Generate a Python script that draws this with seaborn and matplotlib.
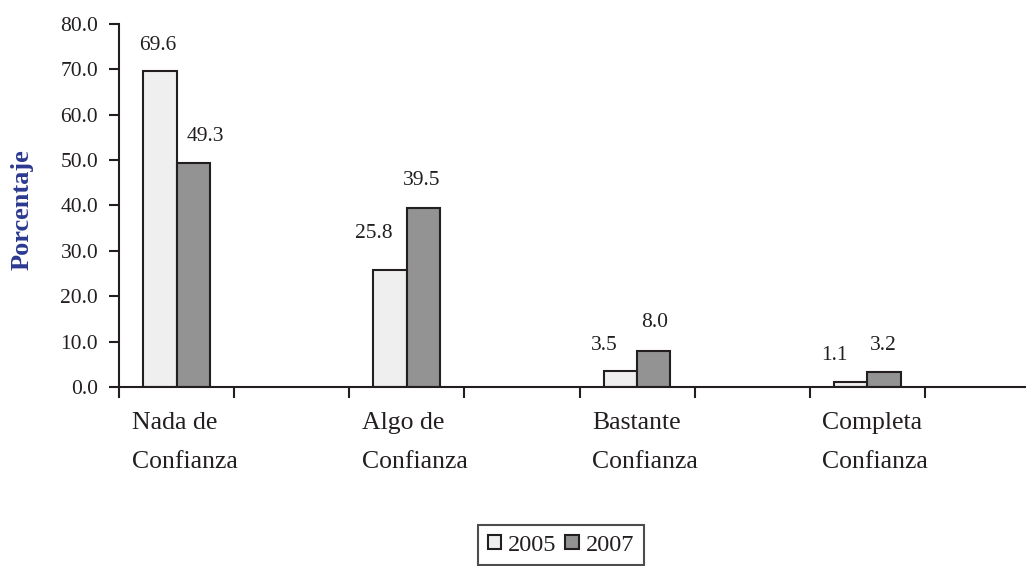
import numpy as np
import pandas as pd
import matplotlib
matplotlib.use("Agg")
import matplotlib.pyplot as plt
from matplotlib.transforms import ScaledTranslation
import seaborn as sns

# Confidence levels and the share of respondents (%) in each survey year
categorias = ["Nada de\nConfianza", "Algo de\nConfianza", "Bastante\nConfianza", "Completa\nConfianza"]
anios = ["2005", "2007"]
v2005 = [69.6, 25.8, 3.5, 1.1]
v2007 = [49.3, 39.5, 8.0, 3.2]
yticks = [0, 10, 20, 30, 40, 50, 60, 70, 80]

sns.set_style("white")
plt.rcParams["font.family"] = ["Liberation Serif", "DejaVu Serif"]
ink = "#231f20"
plt.rcParams["text.color"] = ink
plt.rcParams["axes.labelcolor"] = ink
plt.rcParams["xtick.color"] = ink
plt.rcParams["ytick.color"] = ink

df = pd.DataFrame({
    "nivel": categorias * 2,
    "anio": [anios[0]] * 4 + [anios[1]] * 4,
    "pct": v2005 + v2007,
})

# every category sits in a slot followed by an empty slot
orden = []
for i, c in enumerate(categorias):
    orden += [c, " " * (i + 1)]

W, H = 1026, 566
fig = plt.figure(figsize=(W / 100, H / 100), dpi=100)
ax = fig.add_axes([119 / W, 1 - 387 / H, (1040 - 119) / W, (387 - 24) / H])

sns.barplot(data=df, x="nivel", y="pct", hue="anio", order=orden, hue_order=anios,
            palette=["#efefef", "#939393"], width=0.58, edgecolor=ink, linewidth=1.5,
            saturation=1, errorbar=None, legend=False, ax=ax)

ax.set_xlim(-0.5, len(orden) - 0.5)
ax.set_ylim(0, 80)
ax.set_yticks(yticks)
ax.set_yticklabels([f"{t:.1f}" for t in yticks], fontsize=15.5)

# tick marks on slot boundaries, category names centred under each pair
bounds = np.arange(-0.5, len(orden), 1.0)
ax.set_xticks(bounds)
ax.set_xticklabels([""] * len(bounds))
pos = [orden.index(c) for c in categorias]
ax.set_xticks(pos, minor=True)
ax.set_xticklabels(categorias, minor=True, fontsize=18.5, linespacing=2.0,
                   multialignment="left")
ax.tick_params(axis="x", which="minor", bottom=True, length=0, pad=18)
ax.tick_params(axis="x", which="major", bottom=True, direction="out", length=8, width=1.5)
ax.tick_params(axis="y", left=True, direction="out", length=7, width=1.5, pad=8)
for lab in ax.get_xticklabels(minor=True):
    lab.set_transform(lab.get_transform() + ScaledTranslation(8 / 100, 0, fig.dpi_scale_trans))

ax.set_xlabel("")
ax.set_ylabel("Porcentaje", fontsize=19, fontweight="bold", color="#2b3990")
ax.yaxis.set_label_coords(-0.093, 0.49)

for side in ["top", "right"]:
    ax.spines[side].set_visible(False)
for side in ["left", "bottom"]:
    ax.spines[side].set_linewidth(1.5)
    ax.spines[side].set_color(ink)

# value labels above the bars
offsets = {
    anios[0]: [(-2, 26), (-16, 36), (-16, 26), (-16, 27)],
    anios[1]: [(12, 27), (-2, 27), (1, 28), (-1, 27)],
}
for anio, cont in zip(anios, ax.containers):
    bars = [b for b in cont if np.isfinite(b.get_height()) and b.get_height() > 0]
    for b, (dx, dy) in zip(bars, offsets[anio]):
        h = b.get_height()
        ax.annotate(f"{h:.1f}", (b.get_x() + b.get_width() / 2, h),
                    xytext=(dx, dy), textcoords="offset pixels",
                    ha="center", va="center", fontsize=15.5, color=ink)

handles = [plt.Rectangle((0, 0), 1, 1, facecolor=c, edgecolor=ink, linewidth=1.5)
           for c in ["#efefef", "#939393"]]
leg = fig.legend(handles, anios, loc="upper center", bbox_to_anchor=(561 / W, 1 - 525 / H),
                 ncol=2, fontsize=17.5, frameon=True, fancybox=False, handlelength=0.55,
                 handleheight=0.55, handletextpad=0.3, columnspacing=0.35,
                 borderpad=0.4, borderaxespad=0)
leg.get_frame().set_edgecolor(ink)
leg.get_frame().set_linewidth(1.5)

fig.savefig("out.png", dpi=100)
